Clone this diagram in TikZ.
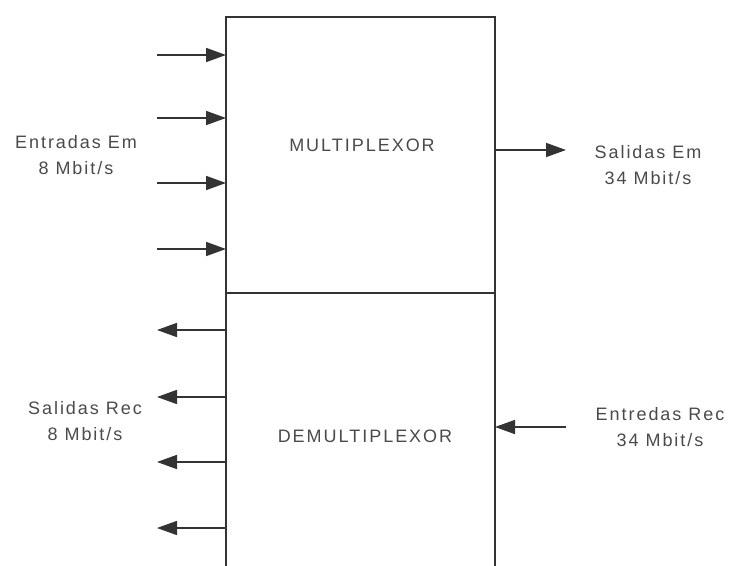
\documentclass[tikz,border=0pt]{standalone}
\usepackage{fontspec}
\setmainfont[LetterSpace=11]{Liberation Sans}
\usetikzlibrary{arrows.meta}
\definecolor{ink}{HTML}{333333}
\definecolor{txt}{HTML}{4A4A4A}
\begin{document}
\begin{tikzpicture}[x=1pt,y=-1pt,
  line/.style={draw=ink, line width=1.7pt},
  sig/.style={line, -{Triangle[length=20pt,width=14pt]}},
  lbl/.style={text=txt, font=\fontsize{18}{26}\selectfont, align=center, inner sep=0pt}]
\useasboundingbox (0,0) rectangle (730,565);
% multiplexor block
\node[line, minimum width=269pt, minimum height=276pt, inner sep=0pt, outer sep=0pt, anchor=north west] (mux) at (226,17) {};
\node[lbl] (muxlbl) at (362,145) {MULTIPLEXOR};
% demultiplexor block (open at the bottom)
\coordinate (dl) at (226,570);
\coordinate (dr) at (495,570);
\draw[line] (mux.south west) -- (dl);
\draw[line] (mux.south east) -- (dr);
\node[lbl] (demuxlbl) at (365,436) {DEMULTIPLEXOR};
% inputs Em
\foreach \y/\n in {55/1,118/2,183/3,249/4}{
  \coordinate (in\n) at (157,\y);
  \draw[sig] (in\n) -- (in\n -| mux.west);
}
\node[lbl] (inlbl) at (76,155) {Entradas Em\\8 Mbit/s};
% output Em
\coordinate (out) at (566,150);
\draw[sig] (out -| mux.east) -- (out);
\node[lbl] (outlbl) at (648,165) {Salidas Em\\34 Mbit/s};
% outputs Rec
\foreach \y/\n in {330/1,397/2,462/3,528/4}{
  \coordinate (ro\n) at (157,\y);
  \draw[sig] (ro\n -| mux.west) -- (ro\n);
}
\node[lbl] (rolbl) at (85,421) {Salidas Rec\\8 Mbit/s};
% input Rec
\coordinate (ri) at (566,427);
\draw[sig] (ri) -- (ri -| mux.east);
\node[lbl] (rilbl) at (660,427) {Entredas Rec\\34 Mbit/s};
\end{tikzpicture}
\end{document}
